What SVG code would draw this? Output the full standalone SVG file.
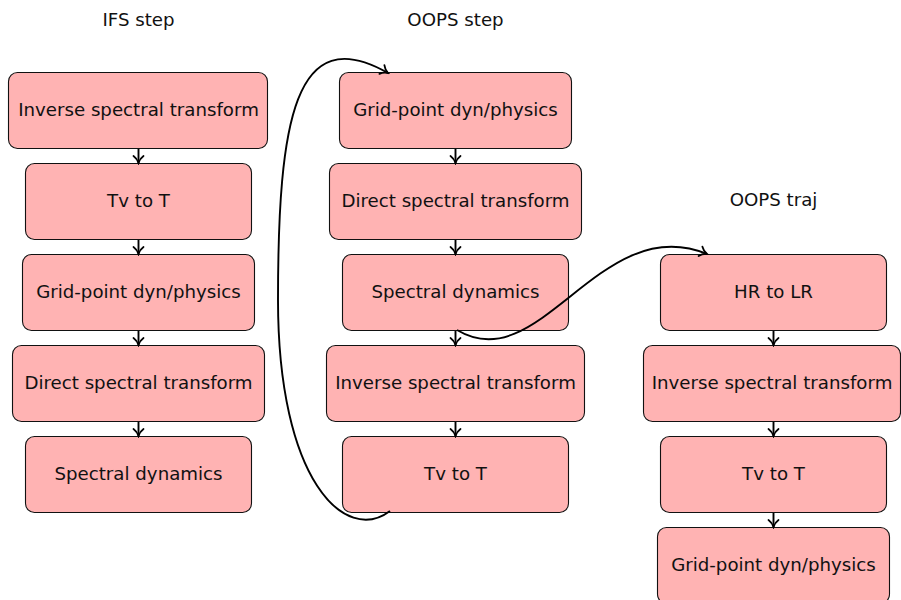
<svg xmlns="http://www.w3.org/2000/svg" width="901" height="600" viewBox="0 0 901 600">
<style>
.box{fill:#ffb3b3;stroke:#111;stroke-width:1.1}
.lbl{font-family:"DejaVu Sans",sans-serif;font-size:18.2px;fill:#111;text-anchor:middle}
.conn{fill:none;stroke:#000;stroke-width:1.9;marker-end:url(#arr)}
</style>
<defs>
<marker id="arr" markerUnits="userSpaceOnUse" viewBox="-10 -7 12 14" markerWidth="12" markerHeight="14" refX="0" refY="0" orient="auto">
<path d="M-7,-5 C-5,-2.2 -2,-0.7 0,0 C-2,0.7 -5,2.2 -7,5" fill="none" stroke="#000" stroke-width="1.8" stroke-linecap="round"/>
</marker>
</defs>
<text class="lbl" x="138.5" y="26">IFS step</text>
<text class="lbl" x="455.5" y="26">OOPS step</text>
<text class="lbl" x="773.5" y="206">OOPS traj</text>

<g id="ifs1"><rect class="box" x="8.5" y="72.5" width="259" height="76" rx="9"/><text class="lbl" x="138.5" y="116">Inverse spectral transform</text></g>
<g id="ifs2"><rect class="box" x="25.5" y="163.5" width="226" height="76" rx="9"/><text class="lbl" x="138.5" y="207">Tv to T</text></g>
<g id="ifs3"><rect class="box" x="22.5" y="254.5" width="232" height="76" rx="9"/><text class="lbl" x="138.5" y="298">Grid-point dyn/physics</text></g>
<g id="ifs4"><rect class="box" x="12.5" y="345.5" width="252" height="76" rx="9"/><text class="lbl" x="138.5" y="389">Direct spectral transform</text></g>
<g id="ifs5"><rect class="box" x="25.5" y="436.5" width="226" height="76" rx="9"/><text class="lbl" x="138.5" y="480">Spectral dynamics</text></g>

<g id="oops1"><rect class="box" x="339.5" y="72.5" width="232" height="76" rx="9"/><text class="lbl" x="455.5" y="116">Grid-point dyn/physics</text></g>
<g id="oops2"><rect class="box" x="329.5" y="163.5" width="252" height="76" rx="9"/><text class="lbl" x="455.5" y="207">Direct spectral transform</text></g>
<g id="oops3"><rect class="box" x="342.5" y="254.5" width="226" height="76" rx="9"/><text class="lbl" x="455.5" y="298">Spectral dynamics</text></g>
<g id="oops4"><rect class="box" x="326.5" y="345.5" width="258" height="76" rx="9"/><text class="lbl" x="455.5" y="389">Inverse spectral transform</text></g>
<g id="oops5"><rect class="box" x="342.5" y="436.5" width="226" height="76" rx="9"/><text class="lbl" x="455.5" y="480">Tv to T</text></g>

<g id="traj1"><rect class="box" x="660.5" y="254.5" width="226" height="76" rx="9"/><text class="lbl" x="773.5" y="298">HR to LR</text></g>
<g id="traj2"><rect class="box" x="643.5" y="345.5" width="257" height="76" rx="9"/><text class="lbl" x="772" y="389">Inverse spectral transform</text></g>
<g id="traj3"><rect class="box" x="660.5" y="436.5" width="226" height="76" rx="9"/><text class="lbl" x="773.5" y="480">Tv to T</text></g>
<g id="traj4"><rect class="box" x="657.5" y="527.5" width="232" height="76" rx="9"/><text class="lbl" x="773.5" y="571">Grid-point dyn/physics</text></g>

<g id="connectors">
<path class="conn" d="M138.5,149 V163"/>
<path class="conn" d="M138.5,240 V254"/>
<path class="conn" d="M138.5,331 V345"/>
<path class="conn" d="M138.5,422 V436"/>
<path class="conn" d="M455.5,149 V163"/>
<path class="conn" d="M455.5,240 V254"/>
<path class="conn" d="M455.5,331 V345"/>
<path class="conn" d="M455.5,422 V436"/>
<path class="conn" d="M773.5,331 V345"/>
<path class="conn" d="M773.5,422 V436"/>
<path class="conn" d="M773.5,513 V527"/>
<path class="conn" d="M390,511 C345,545 278,480 278,300 C278,120 295,20 388,73"/>
<path class="conn" d="M457,330 C540,380 600,210 707,254"/>
</g>
</svg>
